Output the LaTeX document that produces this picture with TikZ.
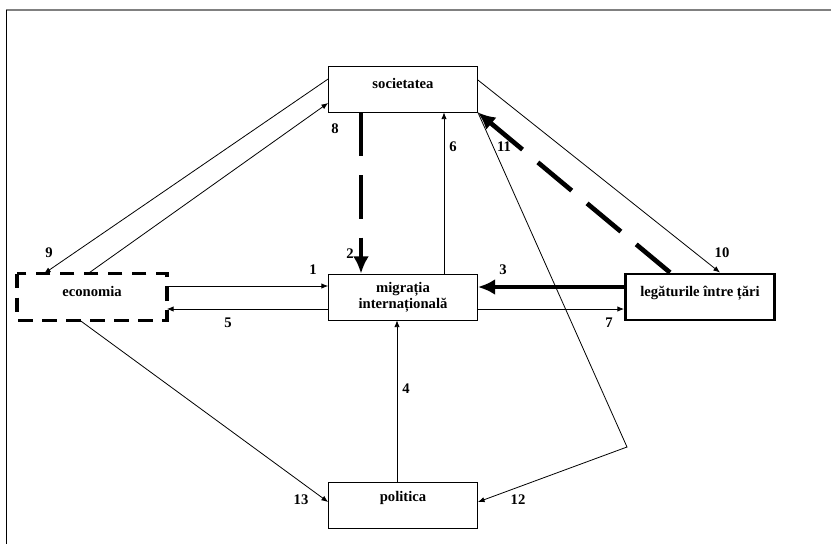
\documentclass[tikz,border=0pt]{standalone}
\usepackage{fontspec}
\setmainfont{Liberation Serif}
\usetikzlibrary{arrows.meta,calc}

\begin{document}
\begin{tikzpicture}[x=0.75pt, y=-0.75pt]
	\tikzstyle{box}   = [rectangle, draw=black, line width=0.6pt, fill=white, minimum width=111.75pt, minimum height=34.5pt, inner sep=0pt, font=\bfseries\fontsize{11}{12}\selectfont, text height=8pt, text depth=9pt, align=center]
	\tikzstyle{num}   = [inner sep=0pt, font=\bfseries\fontsize{11}{12}\selectfont]
	\tikzstyle{thin}  = [line width=0.6pt, -{Latex[length=5pt, width=4pt]}]
	\tikzstyle{thick} = [line width=3.5pt, -{Latex[length=13pt, width=12pt]}]

	\useasboundingbox (0,0) rectangle (831,544);
	\draw[gray, line width=1.6pt] (6,10) -- (831,10);
	\draw[line width=0.6pt] (6,10) -- (6,544);

	\node[box] (soc) at (403, 89) {societatea};
	\node[box, text height=, text depth=] (mig) at (403, 297) {migrația\\internațională};
	\node[box, draw=none] (econ) at (92, 297) {economia};
	\draw[line width=2.5pt, dash pattern=on 11pt off 7pt] (econ.north west) rectangle (econ.south east);
	\node[box, line width=2.2pt] (leg) at (700, 297) {legăturile între țări};
	\node[box, text height=8pt, text depth=14pt] (pol) at (403, 505) {politica};

	\coordinate (bend) at (627, 447);

	% fluxuri simple
	\draw[thin] ($(econ.east)+(0,-11)$) -- ($(mig.west)+(0,-11)$);
	\draw[thin] ($(mig.west)+(0,12)$) -- ($(econ.east)+(0,12)$);
	\draw[thin] ($(mig.north)+(41,0)$) -- ($(soc.south)+(41,0)$);
	\draw[thin] ($(mig.east)+(0,12)$) -- ($(leg.west)+(0,12)$);
	\draw[thin] ($(pol.north)+(-6,0)$) -- ($(mig.south)+(-6,0)$);
	\draw[thin] ($(soc.west)+(0,-10)$) -- ($(econ.north)+(-48,0)$);
	\draw[thin] ($(econ.north)+(-4,0)$) -- ($(soc.west)+(0,14)$);
	\draw[thin] ($(soc.east)+(0,-9)$) -- ($(leg.north)+(20,0)$);
	\draw[thin] (soc.south east) -- (bend) -- ($(pol.east)+(0,-3)$);
	\draw[thin] ($(econ.south)+(-12,0)$) -- ($(pol.west)+(0,-3)$);

	% fluxuri puternice
	\draw[thick, dash pattern=on 33pt off 14pt] ($(soc.south)+(-42,0)$) -- ($(mig.north)+(-42,0)$);
	\draw[thick] ($(leg.west)+(0,-10)$) -- ($(mig.east)+(0,-10)$);
	\draw[thick, dash pattern=on 33pt off 15pt] ($(leg.north)+(-30,0)$) -- (soc.south east);

	\foreach \txt/\x/\y in {1/313/270, 2/350/254, 3/503/270, 4/406/389, 5/228/323, 6/453/147, 7/609/323,
		8/335/129, 9/49/253, 10/722/253, 11/504/147, 12/518/500, 13/301/500}
		\node[num] (n\txt) at (\x, \y) {\txt};
\end{tikzpicture}
\end{document}
